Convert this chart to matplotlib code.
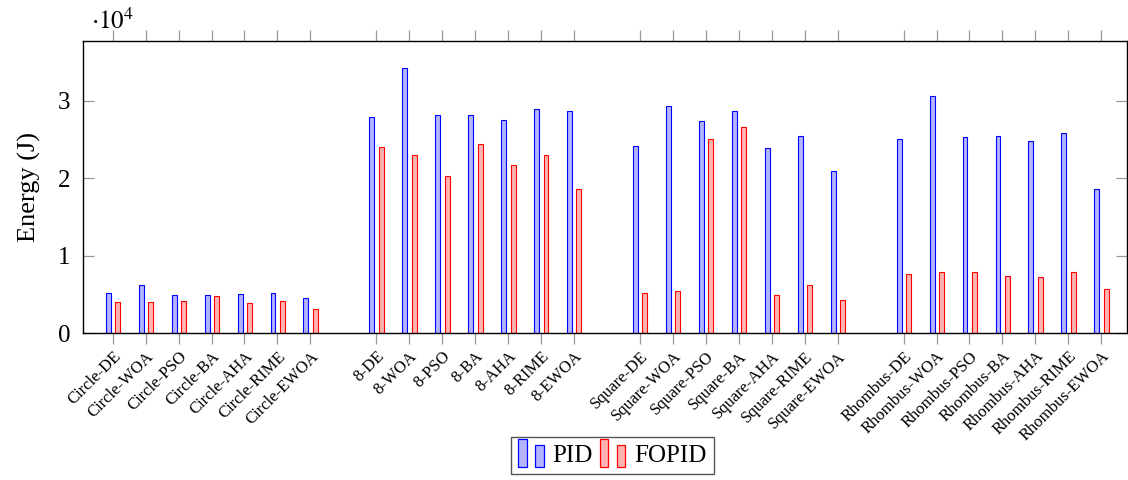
import numpy as np
import matplotlib.pyplot as plt
import matplotlib.transforms as mtransforms
from matplotlib.patches import Rectangle

plt.rcParams['font.family'] = ['Liberation Serif', 'DejaVu Serif']
plt.rcParams['mathtext.fontset'] = 'stix'

shapes = ['Circle', '8', 'Square', 'Rhombus']
methods = ['DE', 'WOA', 'PSO', 'BA', 'AHA', 'RIME', 'EWOA']

pid = [5240, 6190, 4940, 4940, 5070, 5240, 4510,
       27870, 34230, 28170, 28210, 27520, 28940, 28640,
       24130, 29370, 27430, 28640, 23870, 25460, 20900,
       25030, 30620, 25330, 25420, 24770, 25800, 18620]
fopid = [4080, 4080, 4170, 4730, 3950, 4210, 3090,
         24080, 23050, 20260, 24390, 21760, 22970, 18580,
         5240, 5460, 25110, 26580, 4940, 6190, 4300,
         7690, 7870, 7870, 7390, 7220, 7910, 5760]

labels = [s + '-' + m for s in shapes for m in methods]
# one empty slot between shape groups
pos = np.array([g * (len(methods) + 1) + i
                for g in range(len(shapes)) for i in range(len(methods))])

blue_fc, red_fc = '#b3b3ff', '#ffb3b3'


class TwoBars:
    """pgfplots-style ybar legend image: two small bars"""
    def __init__(self, fc, ec):
        self.fc, self.ec = fc, ec

    def legend_artist(self, legend, orig_handle, fontsize, handlebox):
        x0, y0 = -handlebox.xdescent, -handlebox.ydescent
        w, h = handlebox.width, handlebox.height
        bw = w * 0.3
        tr = handlebox.get_transform()
        r1 = Rectangle((x0, y0 - 0.3 * h), bw, h * 1.6,
                       fc=self.fc, ec=self.ec, lw=0.9, transform=tr)
        r2 = Rectangle((x0 + w * 0.62, y0 - 0.3 * h), bw, h * 1.25,
                       fc=self.fc, ec=self.ec, lw=0.9, transform=tr)
        handlebox.add_artist(r1)
        handlebox.add_artist(r2)
        return r1


fig = plt.figure(figsize=(11.28, 4.8), dpi=100)
ax = fig.add_axes([0.0736, 0.306, 0.9255, 0.6085])

bw = 0.15
b1 = ax.bar(pos - 0.135, pid, bw, color=blue_fc, edgecolor='blue', linewidth=0.8, label='PID')
b2 = ax.bar(pos + 0.15, fopid, bw, color=red_fc, edgecolor='red', linewidth=0.8, label='FOPID')

ax.set_xlim(-0.9, 30.78)
ax.set_ylim(0, 37720)
ax.set_yticks([0, 10000, 20000, 30000])
ax.set_yticklabels(['0', '1', '2', '3'], fontsize=18)
ax.set_xticks(pos)
ax.set_xticklabels(labels, rotation=45, ha='right', va='top',
                   rotation_mode='anchor', fontsize=12)
shift = mtransforms.ScaledTranslation(-6 / 100, -2 / 100, fig.dpi_scale_trans)
for lbl in ax.get_xticklabels():
    lbl.set_transform(lbl.get_transform() + shift)
ax.set_ylabel('Energy (J)', fontsize=19, labelpad=12)
ax.text(0.008, 1.025, r'$\cdot 10^{4}$', transform=ax.transAxes,
        fontsize=18, ha='left', va='bottom')

ax.tick_params(axis='x', direction='out', length=8, width=0.9, color='#999999',
               top=True, pad=3)
ax.tick_params(axis='y', direction='in', length=8, width=0.9, color='#999999',
               right=True, pad=9)
for sp in ax.spines.values():
    sp.set_linewidth(1.0)

ax.legend([b1, b2], ['PID', 'FOPID'],
          handler_map={b1: TwoBars(blue_fc, 'blue'), b2: TwoBars(red_fc, 'red')},
          loc='upper center', bbox_to_anchor=(0.507, -0.355), ncol=2,
          fontsize=18, frameon=True, fancybox=False, edgecolor='#555555',
          framealpha=1, handlelength=1.1, handletextpad=0.25, columnspacing=0.3,
          borderpad=0.3, borderaxespad=0)

fig.savefig('out.png', dpi=100)
